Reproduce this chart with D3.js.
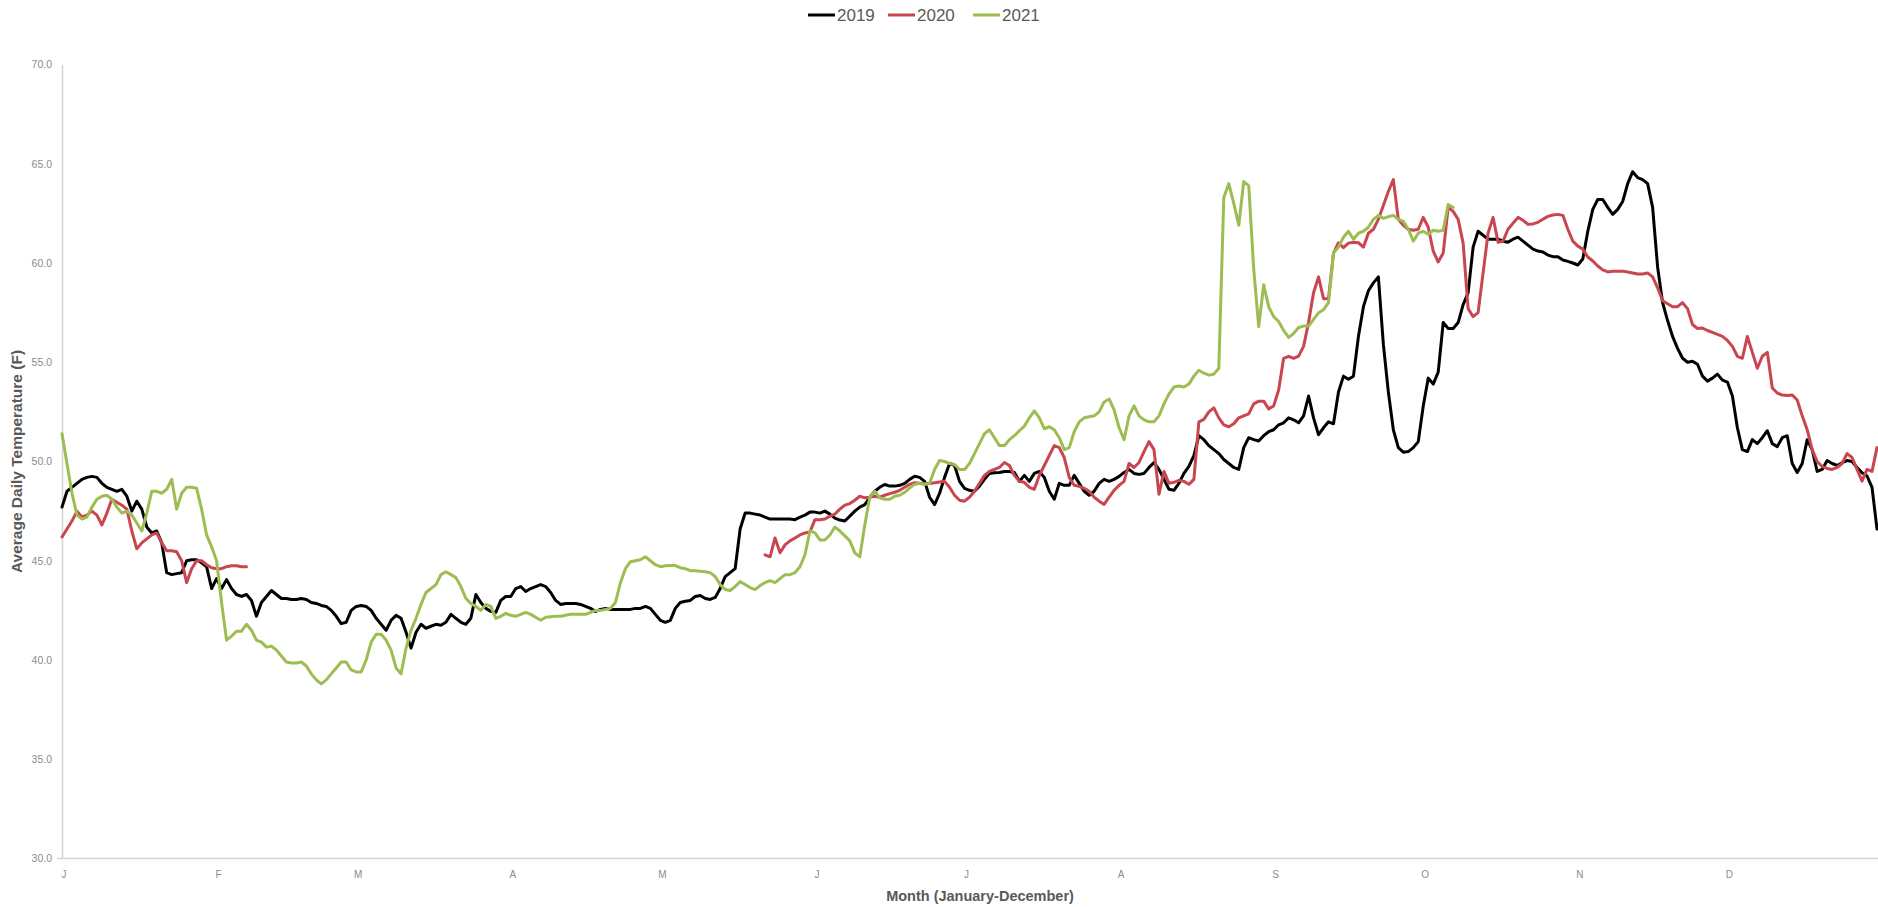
<!DOCTYPE html>
<html>
<head>
<meta charset="utf-8">
<script src="https://cdn.jsdelivr.net/npm/d3@7"></script>
<style>
  html, body { margin: 0; padding: 0; background: #fff; }
  svg { display: block; font-family: "Liberation Sans", Arial, sans-serif; }
</style>
</head>
<body>
<svg id="chart" width="1878" height="907"></svg>
<script>
// ---------- DATA ----------
const monthLabels = ["J","F","M","A","M","J","J","A","S","O","N","D"];
const monthStartDays = [0,31,59,90,120,151,181,212,243,273,304,334];
const yTickValues = [30,35,40,45,50,55,60,65,70];
const seriesNames = ["2019","2020","2021"];
const seriesColors = ["#000000","#c9454f","#9dbc52"];

// Average daily temperature, one value per day starting Jan 1
const temps2019 = [
47.7,48.5,48.7,48.9,49.1,49.2,49.25,49.2,48.9,48.7,
48.6,48.5,48.6,48.25,47.5,48.0,47.6,46.7,46.4,46.5,
45.9,44.4,44.3,44.35,44.4,45.0,45.05,45.05,44.9,44.7,
43.6,44.1,43.6,44.05,43.6,43.3,43.2,43.3,43.0,42.2,
42.9,43.2,43.5,43.3,43.1,43.1,43.05,43.05,43.1,43.05,
42.9,42.85,42.75,42.7,42.5,42.2,41.83,41.9,42.5,42.7,
42.75,42.7,42.5,42.1,41.8,41.5,42.0,42.25,42.1,41.4,
40.6,41.4,41.8,41.6,41.7,41.8,41.75,41.9,42.3,42.1,
41.9,41.8,42.1,43.3,42.9,42.6,42.45,42.4,43.0,43.2,
43.2,43.6,43.7,43.45,43.6,43.7,43.8,43.7,43.4,43.0,
42.8,42.85,42.85,42.85,42.8,42.7,42.6,42.45,42.55,42.6,
42.55,42.55,42.55,42.55,42.55,42.6,42.6,42.7,42.6,42.3,
42.0,41.9,42.0,42.6,42.9,42.96,43.0,43.2,43.25,43.1,
43.05,43.15,43.6,44.2,44.4,44.6,46.6,47.4,47.4,47.35,
47.3,47.2,47.1,47.1,47.1,47.1,47.1,47.07,47.2,47.3,
47.45,47.45,47.4,47.5,47.35,47.15,47.05,47.0,47.25,47.5,
47.7,47.83,48.2,48.5,48.7,48.84,48.76,48.76,48.8,48.9,
49.1,49.26,49.2,49.0,48.2,47.83,48.4,49.2,49.9,49.8,
49.0,48.65,48.55,48.5,48.76,49.1,49.4,49.43,49.45,49.5,
49.5,49.45,49.0,49.3,49.0,49.4,49.5,49.2,48.5,48.1,
48.9,48.8,48.8,49.3,48.9,48.5,48.3,48.5,48.9,49.1,
49.0,49.1,49.25,49.45,49.6,49.4,49.35,49.4,49.7,49.94,
49.6,49.1,48.6,48.55,48.9,49.4,49.75,50.3,51.3,51.1,
50.8,50.6,50.4,50.1,49.9,49.7,49.6,50.7,51.2,51.1,
51.03,51.3,51.5,51.6,51.85,51.95,52.2,52.1,51.95,52.3,
53.3,52.2,51.35,51.7,52.0,51.9,53.5,54.3,54.14,54.3,
56.3,57.8,58.6,59.0,59.3,55.9,53.5,51.6,50.7,50.47,
50.5,50.7,51.0,52.8,54.2,53.9,54.5,57.0,56.7,56.7,
57.0,57.9,58.5,60.8,61.6,61.4,61.2,61.2,61.2,61.1,
61.05,61.2,61.3,61.1,60.9,60.7,60.6,60.55,60.4,60.32,
60.32,60.15,60.08,60.0,59.9,60.2,61.6,62.7,63.2,63.2,
62.8,62.45,62.7,63.1,64.0,64.6,64.3,64.2,64.0,62.8,
59.8,58.0,57.1,56.3,55.7,55.2,55.0,55.05,54.9,54.3,
54.05,54.2,54.4,54.1,54.0,53.3,51.7,50.6,50.5,51.1,
50.9,51.2,51.55,50.9,50.75,51.2,51.3,49.9,49.45,49.9,
51.1,50.6,49.5,49.6,50.05,49.9,49.8,49.94,50.05,50.0,
49.7,49.43,49.27,48.7,46.6
];

const temps2020 = [
46.2,46.6,47.0,47.5,47.2,47.3,47.5,47.3,46.8,47.4,
48.1,47.95,47.8,47.6,46.5,45.6,45.9,46.1,46.3,46.4,
45.9,45.5,45.5,45.45,45.0,43.9,44.6,45.0,45.0,44.8,
44.65,44.6,44.6,44.7,44.75,44.75,44.7,44.7,null,null,
null,null,null,null,null,null,null,null,null,null,
null,null,null,null,null,null,null,null,null,null,
null,null,null,null,null,null,null,null,null,null,
null,null,null,null,null,null,null,null,null,null,
null,null,null,null,null,null,null,null,null,null,
null,null,null,null,null,null,null,null,null,null,
null,null,null,null,null,null,null,null,null,null,
null,null,null,null,null,null,null,null,null,null,
null,null,null,null,null,null,null,null,null,null,
null,null,null,null,null,null,null,null,null,null,
null,45.3,45.2,46.15,45.4,45.8,46.0,46.15,46.3,46.4,
46.45,47.07,47.07,47.1,47.25,47.35,47.6,47.8,47.88,48.05,
48.25,48.17,48.2,48.25,48.2,48.3,48.38,48.45,48.55,48.7,
48.85,48.93,48.9,48.89,48.89,48.93,48.97,49.0,48.7,48.3,
48.05,48.0,48.2,48.5,48.9,49.3,49.5,49.6,49.7,49.95,
49.8,49.3,49.0,48.95,48.7,48.6,49.3,49.8,50.3,50.8,
50.7,50.2,49.2,48.8,48.75,48.65,48.5,48.2,48.0,47.84,
48.2,48.55,48.8,49.0,49.9,49.7,49.95,50.5,51.0,50.6,
48.35,49.5,48.9,48.95,49.05,49.0,48.85,49.1,52.0,52.12,
52.5,52.7,52.2,51.85,51.75,51.9,52.2,52.3,52.4,52.9,
53.04,53.04,52.65,52.8,53.6,55.2,55.3,55.2,55.31,55.8,
57.0,58.5,59.3,58.2,58.2,60.5,61.02,60.77,61.0,61.05,
61.02,60.8,61.5,61.7,62.2,62.9,63.6,64.2,62.2,61.9,
61.7,61.65,61.7,62.3,61.8,60.6,60.05,60.5,62.8,62.6,
62.2,61.0,57.7,57.3,57.5,59.5,61.5,62.3,61.05,61.1,
61.7,62.0,62.3,62.15,61.95,61.97,62.05,62.2,62.35,62.42,
62.45,62.4,61.7,61.1,60.85,60.7,60.3,60.1,59.85,59.65,
59.55,59.58,59.59,59.59,59.55,59.5,59.45,59.45,59.5,59.3,
58.75,58.1,57.95,57.8,57.8,58.0,57.7,56.9,56.7,56.72,
56.6,56.5,56.4,56.3,56.1,55.8,55.3,55.2,56.3,55.5,
54.7,55.3,55.5,53.7,53.45,53.35,53.33,53.35,53.1,52.3,
51.6,50.6,50.0,49.75,49.65,49.6,49.7,49.9,50.4,50.2,
49.6,49.01,49.6,49.5,50.7
];

const temps2021 = [
51.4,49.9,48.4,47.3,47.1,47.2,47.7,48.1,48.25,48.3,
48.1,47.7,47.4,47.5,47.3,46.9,46.5,47.4,48.5,48.5,
48.4,48.6,49.1,47.6,48.4,48.7,48.7,48.65,47.6,46.3,
45.7,45.0,42.9,41.0,41.2,41.45,41.45,41.8,41.5,41.0,
40.9,40.65,40.7,40.5,40.2,39.9,39.85,39.85,39.9,39.7,
39.3,39.0,38.8,39.0,39.3,39.6,39.9,39.9,39.5,39.4,
39.4,40.0,40.9,41.3,41.3,41.0,40.5,39.6,39.3,40.6,
41.5,42.1,42.8,43.4,43.6,43.8,44.3,44.45,44.3,44.15,
43.7,43.1,42.85,42.7,42.5,42.8,42.7,42.1,42.2,42.35,
42.25,42.2,42.3,42.4,42.3,42.15,42.0,42.15,42.18,42.2,
42.2,42.25,42.3,42.3,42.3,42.3,42.4,42.5,42.5,42.55,
42.6,42.9,43.9,44.6,44.95,45.0,45.05,45.2,45.0,44.8,
44.7,44.75,44.76,44.76,44.65,44.6,44.5,44.5,44.47,44.45,
44.4,44.2,43.8,43.55,43.5,43.7,43.95,43.8,43.65,43.55,
43.75,43.9,44.0,43.9,44.1,44.3,44.3,44.4,44.7,45.3,
46.5,46.4,46.05,46.05,46.3,46.7,46.5,46.25,46.0,45.4,
45.2,46.8,48.2,48.5,48.17,48.1,48.1,48.25,48.3,48.45,
48.67,48.85,48.9,48.84,48.9,49.6,50.05,50.0,49.9,49.85,
49.6,49.6,49.9,50.4,50.9,51.4,51.6,51.2,50.8,50.8,
51.1,51.3,51.55,51.78,52.2,52.55,52.2,51.65,51.75,51.6,
51.2,50.6,50.7,51.5,52.0,52.2,52.25,52.3,52.5,53.0,
53.15,52.6,51.7,51.1,52.3,52.8,52.3,52.1,52.0,52.0,
52.3,52.9,53.4,53.75,53.8,53.75,53.9,54.3,54.6,54.45,
54.35,54.4,54.7,63.3,64.0,63.0,61.9,64.1,63.9,59.7,
56.8,58.9,57.8,57.3,57.05,56.6,56.25,56.45,56.75,56.82,
56.82,57.16,57.49,57.65,58.0,60.5,60.8,61.3,61.6,61.2,
61.5,61.6,61.8,62.2,62.4,62.25,62.33,62.4,62.2,62.1,
61.7,61.1,61.5,61.6,61.45,61.65,61.6,61.65,62.95,62.8
];

const seriesValues = [temps2019, temps2020, temps2021];

// ---------- CHART ----------
const svg = d3.select("#chart");
const W = 1878, H = 907;
const plot = { left: 62, right: 1877, top: 64.5, bottom: 858.5 };

const x = d3.scaleLinear().domain([0, 364]).range([plot.left, plot.right]);
const y = d3.scaleLinear().domain([30, 70]).range([plot.bottom, plot.top]);

const axisColor = "#d4d4d4";
const tickColor = "#8c8c8c";
const titleColor = "#595959";

// Y axis
const yAxis = svg.append("g")
  .attr("transform", `translate(${plot.left},0)`)
  .call(d3.axisLeft(y).tickValues(yTickValues).tickFormat(d3.format(".1f")).tickSize(0).tickPadding(10));
yAxis.select(".domain").attr("stroke", axisColor).attr("stroke-width", 1.5);
yAxis.selectAll("text")
  .attr("fill", tickColor)
  .style("font-size", "10.5px")
  .style("font-family", "'Liberation Sans', Arial, sans-serif");

// X axis
const xAxis = svg.append("g")
  .attr("transform", `translate(0,${plot.bottom})`)
  .call(d3.axisBottom(x).tickValues(monthStartDays).tickFormat((d, i) => monthLabels[i]).tickSize(0).tickPadding(12));
xAxis.select(".domain").attr("stroke", axisColor).attr("stroke-width", 1.5)
  .attr("d", `M${plot.left - 5},0H${W}`);
xAxis.selectAll("text")
  .attr("fill", tickColor)
  .attr("dx", 1.5)
  .style("font-size", "10px")
  .style("font-family", "'Liberation Sans', Arial, sans-serif");

// Lines
const line = d3.line()
  .defined(d => d != null)
  .x((d, i) => x(i))
  .y(d => y(d));

svg.append("g").selectAll("path")
  .data(seriesValues)
  .join("path")
  .attr("d", d => line(d))
  .attr("fill", "none")
  .attr("stroke", (d, i) => seriesColors[i])
  .attr("stroke-width", 3)
  .attr("stroke-linejoin", "round")
  .attr("stroke-linecap", "round");

// Axis titles
svg.append("text")
  .attr("transform", `translate(22,${(plot.top + plot.bottom) / 2}) rotate(-90)`)
  .attr("text-anchor", "middle")
  .attr("fill", titleColor)
  .style("font-size", "15.5px")
  .style("font-weight", "bold")
  .text("Average Daily Temperature (F)");

svg.append("text")
  .attr("x", 980)
  .attr("y", 901)
  .attr("text-anchor", "middle")
  .attr("fill", titleColor)
  .style("font-size", "14.5px")
  .style("font-weight", "bold")
  .text("Month (January-December)");

// Legend
const legendX = [808, 888, 973];
const legend = svg.append("g").selectAll("g")
  .data(seriesNames)
  .join("g")
  .attr("transform", (d, i) => `translate(${legendX[i]},15)`);
legend.append("line")
  .attr("x1", 0).attr("x2", 27).attr("y1", 0).attr("y2", 0)
  .attr("stroke", (d, i) => seriesColors[i])
  .attr("stroke-width", 3);
legend.append("text")
  .attr("x", 29)
  .attr("y", 6)
  .attr("fill", titleColor)
  .style("font-size", "17px")
  .text(d => d);
</script>
</body>
</html>
